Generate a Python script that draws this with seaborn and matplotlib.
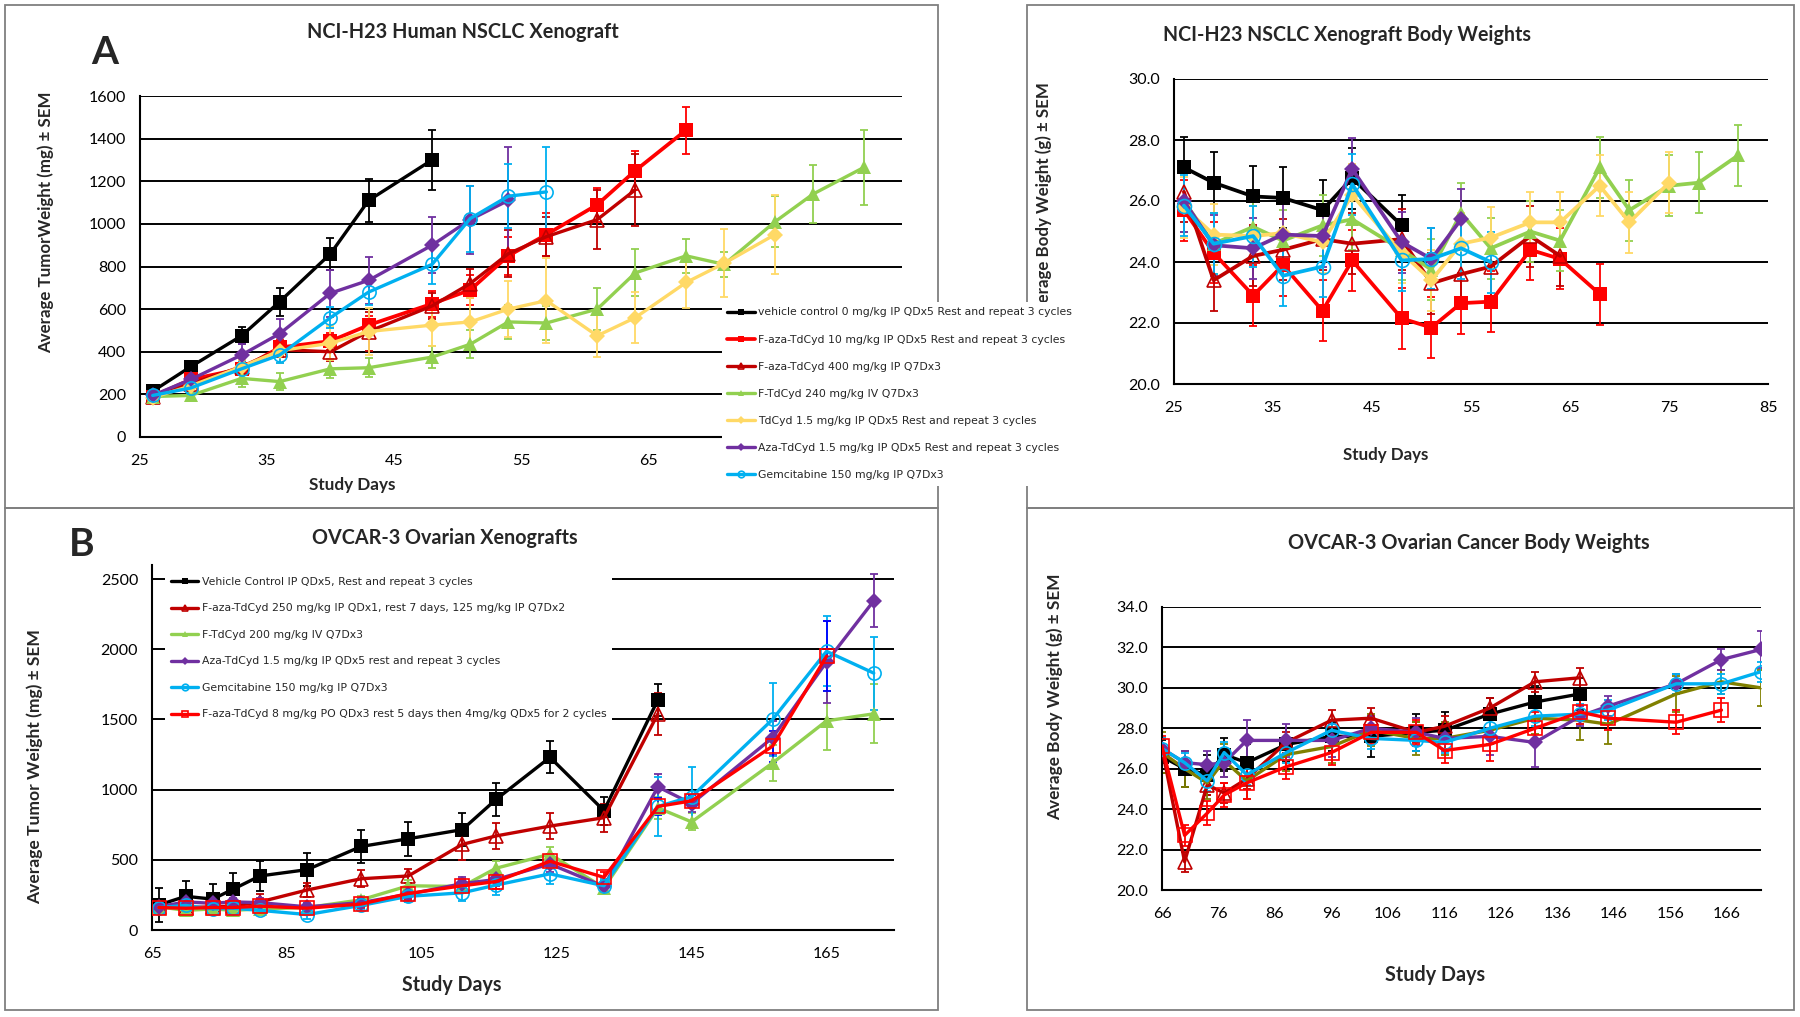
import matplotlib
matplotlib.use("Agg")
import matplotlib.pyplot as plt
from matplotlib.patches import Rectangle
from matplotlib.ticker import FormatStrFormatter
import seaborn as sns

# ---- data: panel A (NCI-H23 tumor weight) ----
A_DAYS = [26, 29, 33, 36, 40, 43, 48, 51, 54, 57, 61, 64, 68, 71, 75, 78, 82]
a_vehicle = [215, 330, 475, 635, 860, 1110, 1300]
a_vehicle_err = [15, 20, 40, 65, 75, 100, 140]
a_faza10 = [190, 270, 320, 420, 450, 525, 625, 690, 850, 950, 1090, 1250, 1440]
a_faza10_err = [15, 20, 25, 35, 40, 45, 60, 70, 90, 100, 80, 90, 110]
a_faza400 = [190, 250, 330, 410, 400, 495, 615, 720, 860, 940, 1020, 1160]
a_faza400_err = [15, 20, 25, 35, 45, 90, 60, 70, 110, 90, 140, 170]
a_ftdcyd = [190, 195, 275, 260, 320, 325, 375, 435, 540, 535, 600, 770, 850, 810, 1010, 1140, 1265]
a_ftdcyd_err = [10, 15, 40, 40, 45, 45, 50, 65, 80, 80, 100, 110, 80, 60, 120, 135, 175]
a_tdcyd = [185, 240, 330, 405, 440, 495, 525, 540, 600, 640, 475, 560, 725, 815, 950]
a_tdcyd_err = [10, 20, 30, 60, 80, 110, 100, 110, 130, 200, 100, 120, 120, 160, 185]
a_aza = [195, 270, 385, 485, 675, 735, 900, 1020, 1110]
a_aza_err = [15, 25, 50, 70, 110, 110, 130, 160, 250]
a_gem = [195, 230, 320, 385, 560, 680, 810, 1025, 1130, 1150]
a_gem_err = [15, 20, 30, 40, 50, 60, 90, 155, 150, 210]

# ---- data: panel A right (NCI-H23 body weights) ----
tr_vehicle = [27.1, 26.6, 26.15, 26.1, 25.7, 26.75, 25.2]
tr_faza10 = [25.7, 24.3, 22.9, 23.9, 22.4, 24.05, 22.15, 21.85, 22.65, 22.7, 24.4, 24.1, 22.95]
tr_faza400 = [26.3, 23.4, 24.2, 24.4, 24.75, 24.6, 24.75, 23.3, 23.6, 23.85, 24.85, 24.2]
tr_ftdcyd = [26.0, 24.6, 25.15, 24.7, 25.2, 25.4, 24.4, 23.75, 25.6, 24.45, 25.0, 24.7, 27.1, 25.7, 26.5, 26.6, 27.5]
tr_tdcyd = [25.8, 24.9, 24.85, 24.95, 24.65, 26.2, 24.3, 23.4, 24.6, 24.8, 25.3, 25.3, 26.5, 25.3, 26.6]
tr_aza = [26.0, 24.55, 24.45, 24.9, 24.85, 27.05, 24.65, 24.1, 25.4]
tr_gem = [25.85, 24.6, 24.85, 23.55, 23.85, 26.55, 24.05, 24.1, 24.45, 24.0]
tr_err = 1.0

# ---- data: panel B (OVCAR-3 tumor weight) ----
B_DAYS = [66, 70, 74, 77, 81, 88, 96, 103, 111, 116, 124, 132, 140, 145, 157, 165, 172]
b_vehicle = [178, 240, 220, 290, 385, 430, 595, 650, 715, 930, 1230, 850, 1640]
b_vehicle_err = [120, 110, 110, 115, 110, 120, 120, 120, 120, 120, 115, 100, 115]
b_faza250 = [165, 160, 165, 170, 200, 285, 365, 385, 610, 670, 740, 800, 1540]
b_faza250_err = [30, 30, 30, 30, 60, 50, 60, 50, 110, 90, 95, 100, 150]
b_ftdcyd = [165, 140, 150, 140, 150, 160, 215, 315, 310, 440, 540, 300, 870, 770, 1190, 1490, 1540]
b_ftdcyd_err = [20, 20, 20, 20, 20, 20, 30, 40, 40, 50, 50, 40, 80, 60, 130, 210, 210]
b_aza = [165, 200, 190, 200, 195, 165, 195, 255, 330, 360, 470, 310, 1020, 900, 1370, 1910, 2345]
b_aza_err = [30, 30, 30, 30, 30, 30, 30, 40, 50, 50, 60, 40, 90, 60, 120, 290, 190]
b_gem = [160, 175, 150, 155, 140, 110, 175, 240, 265, 320, 400, 315, 880, 950, 1500, 1985, 1830]
b_gem_err = [30, 30, 30, 30, 30, 30, 30, 40, 60, 70, 70, 50, 210, 210, 260, 250, 260]
b_faza8 = [160, 155, 160, 160, 170, 155, 185, 260, 315, 345, 490, 375, 880, 920, 1310, 1950]
b_faza8_err = [30, 30, 30, 30, 30, 30, 30, 40, 50, 50, 50, 40, 60, 45, 110, 250]

# ---- data: panel B right (OVCAR-3 body weights) ----
br_vehicle = [26.6, 26.0, 25.7, 26.7, 26.3, 27.2, 27.6, 27.6, 27.8, 27.9, 28.7, 29.3, 29.7]
br_vehicle_err = [0.8, 0.9, 1.0, 0.8, 0.9, 0.8, 0.7, 1.0, 0.9, 0.9, 0.8, 0.8, 0.8]
br_faza250 = [27.0, 21.4, 25.2, 24.8, 25.5, 27.3, 28.4, 28.5, 27.8, 28.1, 29.0, 30.3, 30.5]
br_faza250_err = [0.5] * 13
br_ftdcyd = [26.8, 26.0, 25.3, 26.4, 25.4, 26.7, 27.1, 27.9, 27.5, 27.5, 27.9, 28.5, 28.4, 28.2, 29.7, 30.3, 30.0]
br_ftdcyd_err = [1.0, 0.9, 0.8, 0.8, 0.9, 0.8, 0.8, 0.8, 0.8, 0.8, 0.7, 0.8, 1.0, 1.0, 0.9, 0.6, 0.9]
br_aza = [27.0, 26.3, 26.2, 26.3, 27.4, 27.4, 27.4, 28.0, 27.8, 27.5, 27.6, 27.3, 28.6, 29.1, 30.2, 31.4, 31.9]
br_aza_err = [0.5, 0.6, 0.7, 0.7, 1.0, 0.8, 0.8, 0.6, 0.7, 0.6, 0.9, 1.2, 0.5, 0.5, 0.5, 0.5, 0.9]
br_gem = [27.0, 26.3, 25.4, 26.8, 25.7, 26.8, 27.9, 27.5, 27.4, 27.3, 28.0, 28.6, 28.7, 28.9, 30.2, 30.2, 30.8]
br_gem_err = [0.5] * 17
br_faza8 = [27.1, 22.7, 23.8, 24.7, 25.3, 26.1, 26.8, 27.8, 27.8, 26.9, 27.2, 28.0, 28.8, 28.5, 28.3, 28.9]
br_faza8_err = [0.5, 0.5, 0.6, 0.6, 0.8, 0.6, 0.6, 0.6, 0.6, 0.6, 0.8, 0.8, 0.6, 0.6, 0.6, 0.6]

labels_a = [
    "vehicle control 0 mg/kg IP QDx5 Rest and repeat 3 cycles",
    "F-aza-TdCyd 10 mg/kg IP QDx5 Rest and repeat 3 cycles",
    "F-aza-TdCyd 400 mg/kg IP Q7Dx3",
    "F-TdCyd 240 mg/kg IV Q7Dx3",
    "TdCyd 1.5 mg/kg IP QDx5 Rest and repeat 3 cycles",
    "Aza-TdCyd 1.5 mg/kg IP QDx5 Rest and repeat 3 cycles",
    "Gemcitabine 150 mg/kg IP Q7Dx3",
]
labels_b = [
    "Vehicle Control IP QDx5, Rest and repeat 3 cycles",
    "F-aza-TdCyd 250 mg/kg IP QDx1, rest 7 days, 125 mg/kg IP Q7Dx2",
    "F-TdCyd 200 mg/kg IV Q7Dx3",
    "Aza-TdCyd 1.5 mg/kg IP QDx5 rest and repeat 3 cycles",
    "Gemcitabine 150 mg/kg IP Q7Dx3",
    "F-aza-TdCyd 8 mg/kg PO QDx3 rest 5 days then 4mg/kg QDx5 for 2 cycles",
]

BLACK, RED, DRED = "#000000", "#FF0000", "#C00000"
GREEN, YELLOW, PURPLE = "#92D050", "#FFD966", "#7030A0"
CYAN, OLIVE, BLUE = "#00B0F0", "#808000", "#0000FF"

sns.set_style("white")
plt.rcParams["font.family"] = ["Lato", "DejaVu Sans"]

W, H = 1800, 1017
fig = plt.figure(figsize=(18, 10.17), dpi=100)

LEG_FONT = {"family": "DejaVu Sans", "size": 7.8}


def axes_px(l, t, r, b):
    return fig.add_axes([l / W, 1 - b / H, (r - l) / W, (b - t) / H])


def text_px(x, y, s, **kw):
    fig.text(x / W, 1 - y / H, s, ha="center", va="center", **kw)


def series(ax, days, vals, errs, color, marker, ms, hollow=False, ecolor=None, lw=2.4, split=None):
    d = days[:len(vals)]
    if not isinstance(errs, list):
        errs = [errs] * len(vals)
    cut = len(vals) if split is None else split
    ax.errorbar(d[:cut], vals[:cut], yerr=errs[:cut], fmt="none", ecolor=color,
                elinewidth=1.3, capsize=3.2, capthick=1.3, zorder=2)
    if cut < len(vals):
        ax.errorbar(d[cut:], vals[cut:], yerr=errs[cut:], fmt="none", ecolor=ecolor,
                    elinewidth=1.3, capsize=3.2, capthick=1.3, zorder=2)
    sns.lineplot(x=d, y=vals, ax=ax, color=color, marker=marker, markersize=ms,
                 markerfacecolor="none" if hollow else color, markeredgecolor=color,
                 markeredgewidth=1.2 if hollow else 0, linewidth=lw, sort=False,
                 errorbar=None, zorder=3)
    return ax.lines[-1]


def style(ax, xlim, ylim, xticks, yticks, yfmt):
    ax.set_xlim(xlim)
    ax.set_ylim(ylim)
    ax.set_xticks(xticks)
    ax.set_yticks(yticks)
    ax.yaxis.set_major_formatter(FormatStrFormatter(yfmt))
    ax.set_facecolor("none")
    for s in ["top", "right"]:
        ax.spines[s].set_visible(False)
    for s in ["left", "bottom"]:
        ax.spines[s].set_color("black")
        ax.spines[s].set_linewidth(1.5)
    ax.grid(axis="y", color="black", lw=1.4)
    ax.grid(axis="x", visible=False)
    ax.set_axisbelow(True)
    ax.tick_params(direction="out", length=4, width=1.3, colors="black", labelsize=11.5)
    ax.tick_params(axis="x", pad=8)
    ax.tick_params(axis="y", pad=6)
    ax.set_xlabel("")
    ax.set_ylabel("")


# panel frames
for (l, t, r, b) in [(5, 5, 938, 508), (1027, 5, 1794, 508), (5, 508, 938, 1010), (1027, 508, 1794, 1010)]:
    fig.add_artist(Rectangle((l / W, 1 - b / H), (r - l) / W, (b - t) / H, transform=fig.transFigure,
                             fill=False, edgecolor="#7F7F7F", lw=1.3, zorder=1))

# ---- Panel A ----
ax = axes_px(140, 96, 902, 437)
h = []
h.append(series(ax, A_DAYS, a_vehicle, a_vehicle_err, BLACK, "s", 10))
h.append(series(ax, A_DAYS, a_faza10, a_faza10_err, RED, "s", 10, lw=2.7))
h.append(series(ax, A_DAYS, a_faza400, a_faza400_err, DRED, "^", 9.5, hollow=True))
h.append(series(ax, A_DAYS, a_ftdcyd, a_ftdcyd_err, GREEN, "^", 10))
h.append(series(ax, A_DAYS, a_tdcyd, a_tdcyd_err, YELLOW, "D", 8))
h.append(series(ax, A_DAYS, a_aza, a_aza_err, PURPLE, "D", 8))
h.append(series(ax, A_DAYS, a_gem, a_gem_err, CYAN, "o", 9.5, hollow=True))
style(ax, (25, 85), (0, 1600), range(25, 86, 10), range(0, 1601, 200), "%d")
# the 75 / 85 tick labels sit under the legend box in the original
for lab in ax.get_xticklabels()[-2:]:
    lab.set_visible(False)
text_px(463, 32, "NCI-H23 Human NSCLC Xenograft", fontsize=14.3, fontweight="bold")
text_px(105, 52, "A", fontsize=28, fontweight="bold")
text_px(46, 222, "Average TumorWeight (mg) ± SEM", fontsize=12.2, fontweight="bold", rotation=90)
text_px(352, 485, "Study Days", fontsize=12.3, fontweight="bold")

fig.legend(h, labels_a, loc="upper left", bbox_to_anchor=(722 / W, 1 - 302 / H),
           bbox_transform=fig.transFigure, frameon=True, facecolor="white", edgecolor="none",
           framealpha=1, fancybox=False, prop=LEG_FONT,
           handlelength=2.5, handletextpad=0.35, labelspacing=1.58, borderpad=0.5,
           borderaxespad=0, markerscale=0.5)

# ---- Panel A right ----
ax = axes_px(1174, 79, 1768, 384)
series(ax, A_DAYS, tr_vehicle, tr_err, BLACK, "s", 10.5, lw=2.7)
series(ax, A_DAYS, tr_faza10, tr_err, RED, "s", 10.5, lw=2.7)
series(ax, A_DAYS, tr_faza400, tr_err, DRED, "^", 10, hollow=True, lw=2.7)
series(ax, A_DAYS, tr_ftdcyd, tr_err, GREEN, "^", 10.5, lw=2.7)
series(ax, A_DAYS, tr_tdcyd, tr_err, YELLOW, "D", 8.5, lw=2.7)
series(ax, A_DAYS, tr_aza, tr_err, PURPLE, "D", 8.5, lw=2.7)
series(ax, A_DAYS, tr_gem, tr_err, CYAN, "o", 10, hollow=True, lw=2.7)
style(ax, (25, 85), (20, 30), range(25, 86, 10), [20, 22, 24, 26, 28, 30], "%.1f")
text_px(1347, 35, "NCI-H23 NSCLC Xenograft Body Weights", fontsize=14.1, fontweight="bold")
text_px(1044, 203, "Average Body Weight (g) ± SEM", fontsize=12.2, fontweight="bold", rotation=90)
text_px(1386, 455, "Study Days", fontsize=12.2, fontweight="bold")

# ---- Panel B ----
ax = axes_px(152, 565, 894, 930)
h = []
h.append(series(ax, B_DAYS, b_vehicle, b_vehicle_err, BLACK, "s", 10))
h.append(series(ax, B_DAYS, b_faza250, b_faza250_err, DRED, "^", 9.5, hollow=True))
h.append(series(ax, B_DAYS, b_ftdcyd, b_ftdcyd_err, GREEN, "^", 10))
h.append(series(ax, B_DAYS, b_aza, b_aza_err, PURPLE, "D", 8))
h.append(series(ax, B_DAYS, b_gem, b_gem_err, CYAN, "o", 9.5, hollow=True))
h.append(series(ax, B_DAYS, b_faza8, b_faza8_err, RED, "s", 9.5, hollow=True, ecolor=BLUE, split=12))
style(ax, (65, 175), (0, 2600), range(65, 166, 20), range(0, 2501, 500), "%d")
ax.legend(h, labels_b, loc="upper left", bbox_to_anchor=(165 / W, 1 - 571 / H),
          bbox_transform=fig.transFigure, frameon=True, facecolor="white", edgecolor="none",
          framealpha=1, fancybox=False, prop=LEG_FONT,
          handlelength=2.5, handletextpad=0.35, labelspacing=1.52, borderpad=0.55,
          borderaxespad=0, markerscale=0.5)
text_px(445, 538, "OVCAR-3 Ovarian Xenografts", fontsize=14.2, fontweight="bold")
text_px(82, 545, "B", fontsize=28, fontweight="bold")
text_px(35, 767, "Average Tumor Weight (mg) ± SEM", fontsize=12.6, fontweight="bold", rotation=90)
text_px(452, 985, "Study Days", fontsize=14.1, fontweight="bold")

# ---- Panel B right ----
ax = axes_px(1162, 607, 1761, 890)
series(ax, B_DAYS, br_vehicle, br_vehicle_err, BLACK, "s", 9.5)
series(ax, B_DAYS, br_faza250, br_faza250_err, DRED, "^", 9.5, hollow=True)
series(ax, B_DAYS, br_ftdcyd, br_ftdcyd_err, OLIVE, "^", 1)
series(ax, B_DAYS, br_aza, br_aza_err, PURPLE, "D", 8)
series(ax, B_DAYS, br_gem, br_gem_err, CYAN, "o", 9.5, hollow=True)
series(ax, B_DAYS, br_faza8, br_faza8_err, RED, "s", 9.5, hollow=True)
style(ax, (66, 172), (20, 34), range(66, 167, 10), range(20, 35, 2), "%.1f")
text_px(1469, 543, "OVCAR-3 Ovarian Cancer Body Weights", fontsize=14.3, fontweight="bold")
text_px(1055, 697, "Average Body Weight (g) ± SEM", fontsize=12.4, fontweight="bold", rotation=90)
text_px(1435, 975, "Study Days", fontsize=14.2, fontweight="bold")

fig.savefig("out.png", dpi=100, facecolor="white")
